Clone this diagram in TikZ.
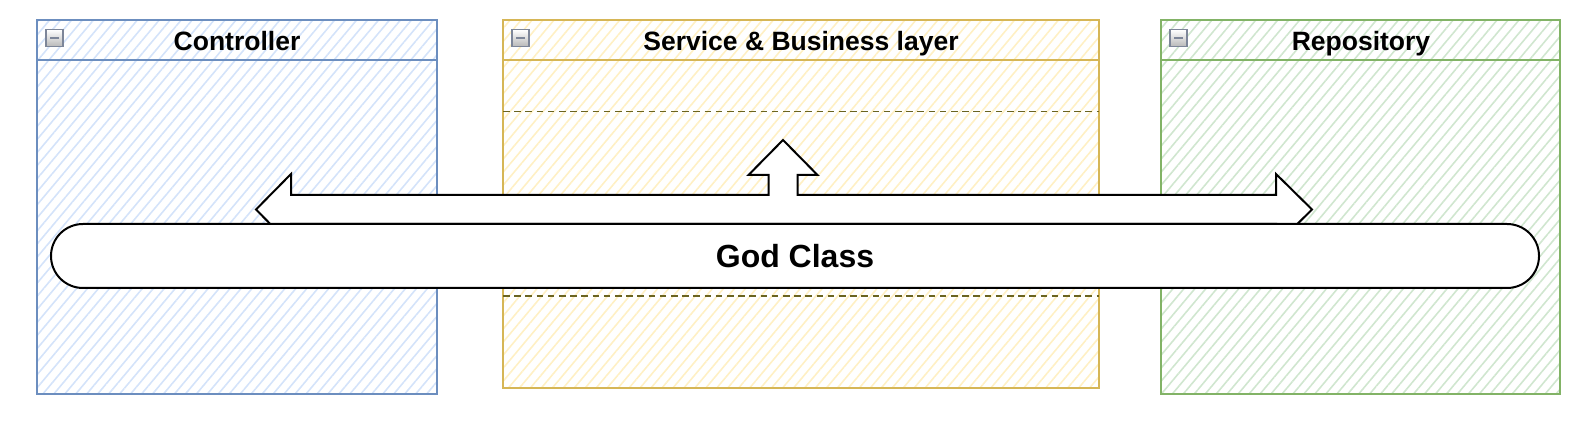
\documentclass[tikz,border=0pt]{standalone}
\usepackage{fontspec}
\setmainfont{Liberation Sans}
\usepackage{tikz}
\usetikzlibrary{patterns.meta,positioning}
\definecolor{ctrlfill}{HTML}{D4E3FA}
\definecolor{ctrldraw}{HTML}{6C8EBF}
\definecolor{servfill}{HTML}{FFF0C4}
\definecolor{servdraw}{HTML}{D6B656}
\definecolor{repofill}{HTML}{D0E6CF}
\definecolor{repodraw}{HTML}{82B366}
\definecolor{sepline}{HTML}{6B6420}
\definecolor{icondraw}{HTML}{7D8699}

\begin{document}
\begin{tikzpicture}[x=0.5pt, y=-0.5pt,
      hatch/.style={pattern={Lines[angle=50,distance=4.2pt,line width=0.8pt]}},
      layer/.style={hatch, line width=0.8pt},
      title/.style={anchor=base, font=\fontsize{13.25}{15}\selectfont\bfseries},
      collapse/.style={draw=icondraw, line width=0.8pt, top color=white,
        bottom color=gray!55, minimum size=8.5pt, inner sep=0pt,
        path picture={\draw[line width=1pt]
          ([xshift=2.2pt]path picture bounding box.west) --
          ([xshift=-2.2pt]path picture bounding box.east);}},
      sep/.style={draw=sepline, line width=0.8pt, dash pattern=on 3.3pt off 2.3pt},
      bigarrow/.style={draw=black, fill=white, line width=1pt, line join=miter},
      godclass/.style={draw=black, fill=white, line width=1pt, rounded corners=16pt,
        minimum width=744pt, minimum height=32pt,
        font=\fontsize{16}{19}\selectfont\bfseries}
    ]
    \useasboundingbox (0,0) rectangle (1588,432);

    \draw[layer, draw=ctrldraw, pattern color=ctrlfill] (37,20) rectangle (437,394);
    \draw[ctrldraw, line width=0.8pt] (37,60) -- (437,60);
    \node[collapse] (ctrlicon) at (54.5,38) {};
    \node[title] (ctrl) at (237,51) {Controller};

    \draw[layer, draw=servdraw, pattern color=servfill] (503,20) rectangle (1099,388);
    \draw[servdraw, line width=0.8pt] (503,60) -- (1099,60);
    \draw[sep] (503,111.5) -- (1099,111.5);
    \draw[sep] (503,296) -- (1099,296);
    \node[collapse] (servicon) at (520.5,38) {};
    \node[title] (serv) at (801,51) {Service \& Business layer};

    \draw[layer, draw=repodraw, pattern color=repofill] (1161,20) rectangle (1560,394);
    \draw[repodraw, line width=0.8pt] (1161,60) -- (1560,60);
    \node[collapse] (repoicon) at (1178.5,38) {};
    \node[title] (repo) at (1361,51) {Repository};

    \draw[bigarrow] (256,209.5) -- (291,174) -- (291,195) -- (768.5,195) -- (768.5,175)
      -- (748.5,175) -- (783,140) -- (817.5,175) -- (797.5,175) -- (797.5,195)
      -- (1276,195) -- (1276,174) -- (1312,209.5) -- (1276,245) -- (1276,224)
      -- (291,224) -- (291,245) -- cycle;

    \node[godclass] (god) at (795,256) {God Class};
  \end{tikzpicture}
\end{document}
